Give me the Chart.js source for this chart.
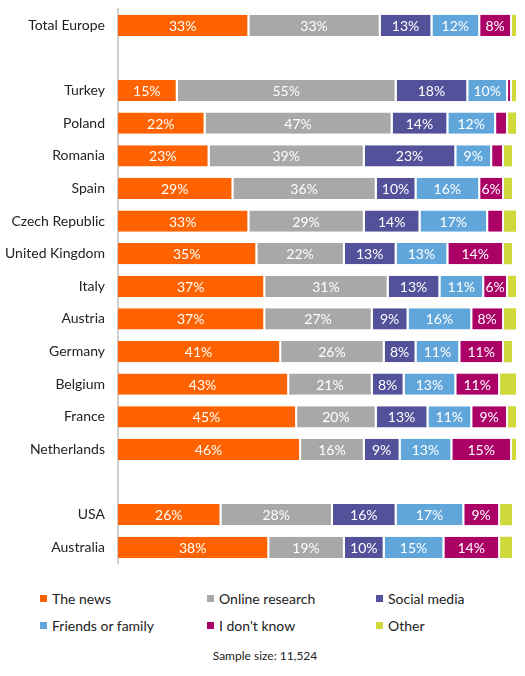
<!DOCTYPE html>
<html>
<head>
<meta charset="utf-8">
<script src="https://cdn.jsdelivr.net/npm/chart.js@4/dist/chart.umd.min.js"></script>
<style>
  body { margin: 0; background: #fff; font-family: Lato, "Noto Sans", sans-serif; color: #222; }
  #wrap { position: relative; width: 525px; height: 572px; }
  #legend { display: grid; grid-template-columns: 167px 169px 149px; margin: 17px 0 0 40px; row-gap: 8px; }
  .item { display: flex; align-items: center; font-size: 14px; height: 19px; }
  .sw { width: 7px; height: 7px; margin-right: 5px; }
  #note { text-align: center; font-size: 12px; margin-top: 13px; padding-left: 5px; }
</style>
</head>
<body>
<div id="wrap"><canvas id="chart"></canvas></div>
<div id="legend"></div>
<div id="note">Sample size: 11,524</div>
<script>
const countries = ['Total Europe', '', 'Turkey', 'Poland', 'Romania', 'Spain', 'Czech Republic',
  'United Kingdom', 'Italy', 'Austria', 'Germany', 'Belgium', 'France', 'Netherlands', '', 'USA', 'Australia'];

const theNews        = [33, null, 15, 22, 23, 29, 33, 35, 37, 37, 41, 43, 45, 46, null, 26, 38];
const onlineResearch = [33, null, 55, 47, 39, 36, 29, 22, 31, 27, 26, 21, 20, 16, null, 28, 19];
const socialMedia    = [13, null, 18, 14, 23, 10, 14, 13, 13,  9,  8,  8, 13,  9, null, 16, 10];
const friendsFamily  = [12, null, 10, 12,  9, 16, 17, 13, 11, 16, 11, 13, 11, 13, null, 17, 15];
const dontKnow       = [ 8, null,  1,  3,  3,  6,  4, 14,  6,  8, 11, 11,  9, 15, null,  9, 14];
const other          = [ 2, null,  1,  2,  2,  2,  3,  2,  2,  3,  2,  4,  2,  1, null,  3,  3];

const seriesNames  = ['The news', 'Online research', 'Social media', 'Friends or family', "I don't know", 'Other'];
const seriesValues = [theNews, onlineResearch, socialMedia, friendsFamily, dontKnow, other];
const seriesColors = ['#FF6200', '#A8A8A8', '#525199', '#60A6DA', '#AB0066', '#D0D93C'];

// white percentage labels inside the segments (small ones left blank)
const valueLabels = {
  id: 'valueLabels',
  afterDatasetsDraw(chart) {
    const ctx = chart.ctx;
    ctx.save();
    ctx.font = '14px Lato, "Noto Sans", sans-serif';
    ctx.fillStyle = '#fff';
    ctx.textAlign = 'center';
    ctx.textBaseline = 'middle';
    chart.data.datasets.forEach((ds, i) => {
      chart.getDatasetMeta(i).data.forEach((bar, j) => {
        const v = ds.data[j];
        if (v == null || v < 5) return;
        ctx.fillText(v + '%', (bar.x + bar.base) / 2 - 1, bar.y + 1);
      });
    });
    ctx.restore();
  }
};

new Chart(document.getElementById('chart'), {
  type: 'bar',
  data: {
    labels: countries,
    datasets: seriesNames.map((name, i) => ({
      label: name,
      data: seriesValues[i],
      backgroundColor: seriesColors[i],
      borderColor: '#fff',
      borderWidth: { top: 0, bottom: 0, left: 0, right: i === seriesNames.length - 1 ? 0 : 2 },
      borderSkipped: 'start',
      categoryPercentage: 1,
      barPercentage: 0.65
    }))
  },
  options: {
    indexAxis: 'y',
    responsive: true,
    maintainAspectRatio: false,
    animation: false,
    layout: { padding: { top: 9, right: 9, bottom: 8, left: 0 } },
    plugins: { legend: { display: false }, tooltip: { enabled: false } },
    scales: {
      x: { stacked: true, min: 0, max: 100, display: false },
      y: {
        stacked: true,
        grid: { display: true, color: 'rgba(0,0,0,0)', drawOnChartArea: false, drawTicks: true, tickLength: 13 },
        border: { display: true, color: '#d0d0d0', width: 2 },
        ticks: { color: '#222', padding: 0, font: { family: 'Lato, "Noto Sans", sans-serif', size: 14 } },
        afterFit(scale) { scale.width = 118; }
      }
    }
  },
  plugins: [valueLabels]
});

const legend = document.getElementById('legend');
seriesNames.forEach((name, i) => {
  const el = document.createElement('div');
  el.className = 'item';
  el.innerHTML = '<span class="sw" style="background:' + seriesColors[i] + '"></span>' + name;
  legend.appendChild(el);
});
</script>
</body>
</html>
